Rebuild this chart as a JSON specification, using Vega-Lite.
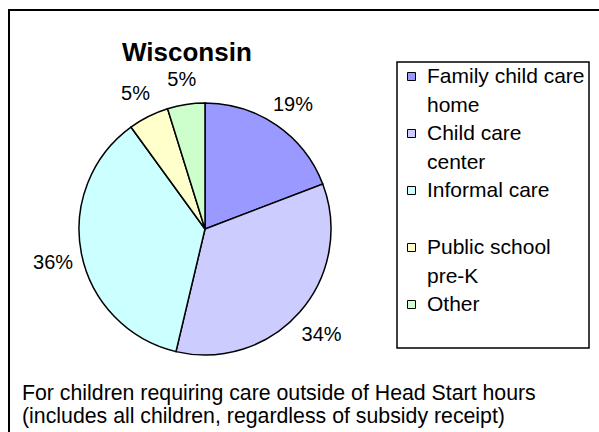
{
  "$schema": "https://vega.github.io/schema/vega-lite/v6.json",
  "autosize": "none",
  "width": 600,
  "height": 440,
  "padding": {"left": 9, "top": 10, "right": 0, "bottom": 0},
  "background": "white",
  "config": {
    "view": {"stroke": "black", "strokeWidth": 2},
    "font": "Liberation Sans",
    "legend": {"strokeWidth": 1.5},
    "style": {
      "guide-label": {"lineHeight": 29},
      "view": {"stroke": "black", "strokeWidth": 2}
    }
  },
  "title": {
    "text": "Wisconsin",
    "anchor": "start",
    "frame": "group",
    "orient": "top",
    "offset": 0,
    "baseline": "alphabetic",
    "dx": 113,
    "dy": 77,
    "fontSize": 26,
    "fontWeight": "bold",
    "font": "Liberation Sans",
    "color": "black"
  },
  "layer": [
    {
      "data": {
        "values": [
          {"category": "Family child care home", "value": 19.2, "label": "19%", "order": 1},
          {"category": "Child care center", "value": 34.5, "label": "34%", "order": 2},
          {"category": "Informal care", "value": 36.3, "label": "36%", "order": 3},
          {"category": "Public school pre-K", "value": 5.2, "label": "5%", "order": 4},
          {"category": "Other", "value": 4.8, "label": "5%", "order": 5}
        ]
      },
      "encoding": {
        "theta": {"field": "value", "type": "quantitative", "stack": true},
        "order": {"field": "order", "type": "quantitative"}
      },
      "layer": [
        {
          "mark": {"type": "arc", "outerRadius": 126, "x": 196, "y": 219, "stroke": "black", "strokeWidth": 1.5},
          "encoding": {
            "color": {
              "field": "category",
              "type": "nominal",
              "scale": {
                "domain": ["Family child care home", "Child care center", "Informal care", "Public school pre-K", "Other"],
                "range": ["#9999FF", "#CCCCFF", "#CCFFFF", "#FFFFCC", "#CCFFCC"]
              },
              "legend": {
                "title": null,
                "orient": "none",
                "legendX": 388,
                "legendY": 52,
                "padding": 4,
                "strokeColor": "black",
                "fillColor": "white",
                "symbolType": "square",
                "symbolSize": 64,
                "symbolStrokeColor": "black",
                "symbolStrokeWidth": 1,
                "symbolOpacity": 1,
                "labelFont": "Liberation Sans",
                "labelFontSize": 21,
                "labelColor": "black",
                "labelOffset": 5,
                "labelLimit": 300,
                "labelBaseline": "middle",
                "rowPadding": 6,
                "labelExpr": "datum.label == 'Family child care home' ? ['Family child care', 'home'] : datum.label == 'Child care center' ? ['Child care', 'center'] : datum.label == 'Public school pre-K' ? ['Public school', 'pre-K'] : [datum.label, '']"
              }
            }
          }
        },
        {
          "mark": {"type": "text", "radius": 155, "x": 196, "y": 219, "dy": 4, "fontSize": 20, "font": "Liberation Sans", "color": "black"},
          "encoding": {
            "text": {"field": "label", "type": "nominal"}
          }
        }
      ]
    },
    {
      "data": {
        "values": [
          {"note": "For children requiring care outside of Head Start hours\n(includes all children, regardless of subsidy receipt)"}
        ]
      },
      "mark": {"type": "text", "x": 13, "y": 373, "align": "left", "baseline": "top", "lineBreak": "\n", "lineHeight": 23, "fontSize": 21.3, "font": "Liberation Sans", "color": "black"},
      "encoding": {
        "text": {"field": "note", "type": "nominal"}
      }
    }
  ]
}
